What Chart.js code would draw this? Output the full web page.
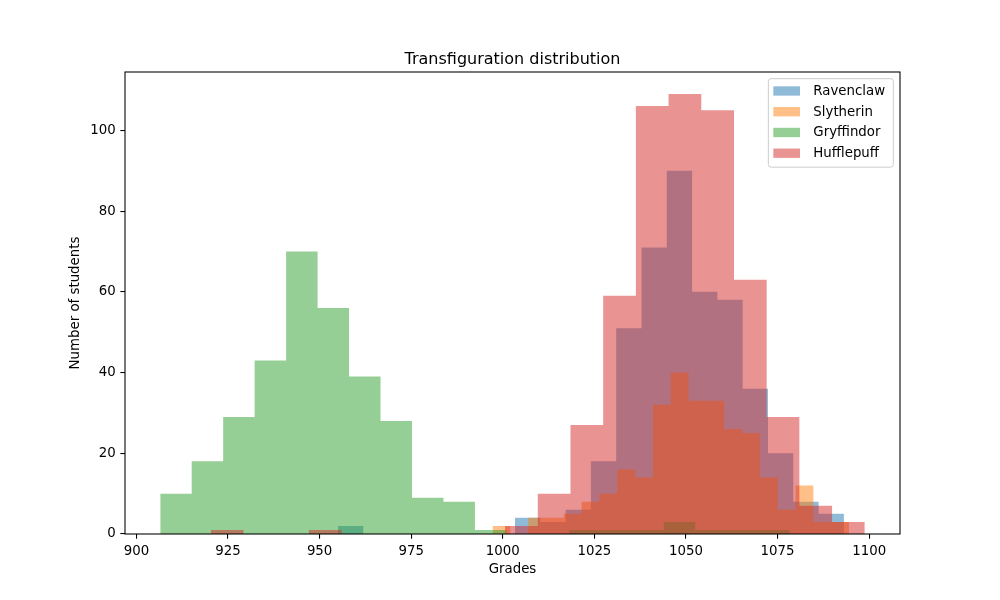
<!DOCTYPE html>
<html><head><meta charset="utf-8">
<script src="https://cdn.jsdelivr.net/npm/chart.js@4.4.1/dist/chart.umd.min.js"></script>
<style>html,body{margin:0;padding:0;background:#fff}canvas{display:block}</style>
</head><body>
<canvas id="c" width="1000" height="600"></canvas>
<script>
// ---- data ----
const houses = ['Ravenclaw', 'Slytherin', 'Gryffindor', 'Hufflepuff'];
// 20-bin histogram counts per house
const ravenclawCounts  = [2,0,0,0,0,0,0,4,3,6,18,51,71,90,60,58,36,20,8,5];
const slytherinCounts  = [2,0,4,4,5,8,10,16,14,32,40,33,33,26,25,14,6,12,3,3];
const gryffindorCounts = [10,18,29,43,70,56,39,28,9,8,1,0,0,1,1,1,3,1,1,1];
const hufflepuffCounts = [1,0,0,1,0,0,0,0,0,2,10,27,59,106,109,105,63,29,7,3];
// min / max grade of each house (histogram range)
const ravenclawRange  = [955.0, 1093.1];
const slytherinRange  = [997.2, 1094.5];
const gryffindorRange = [906.5, 1078.3];
const hufflepuffRange = [920.3, 1098.8];
const xTicks = [900, 925, 950, 975, 1000, 1025, 1050, 1075, 1100];
const yTicks = [0, 20, 40, 60, 80, 100];
const houseColors = ['rgba(31,119,180,0.5)', 'rgba(255,127,14,0.5)', 'rgba(44,160,44,0.5)', 'rgba(214,39,40,0.5)'];

const counts = [ravenclawCounts, slytherinCounts, gryffindorCounts, hufflepuffCounts];
const ranges = [ravenclawRange, slytherinRange, gryffindorRange, hufflepuffRange];

function histPoints(c, r) {
  const n = c.length, w = (r[1] - r[0]) / n, pts = [];
  for (let i = 0; i < n; i++) pts.push({x: r[0] + i * w, y: c[i]});
  pts.push({x: r[1], y: c[n - 1]});
  return pts;
}

const allMin = Math.min(...ranges.map(r => r[0]));
const allMax = Math.max(...ranges.map(r => r[1]));
const xPad = (allMax - allMin) * 0.05;
const yMax = Math.max(...counts.map(c => Math.max(...c))) * 1.05;

const FONT = "'DejaVu Sans', sans-serif";
const PT = 4 / 3;

const datasets = houses.map((h, i) => ({
  label: h,
  data: histPoints(counts[i], ranges[i]),
  stepped: true,
  fill: 'origin',
  backgroundColor: houseColors[i],
  borderColor: 'rgba(0,0,0,0)',
  borderWidth: 0,
  pointRadius: 0,
  pointHoverRadius: 0,
  order: houses.length - 1 - i
}));

const framePlugin = {
  id: 'frame',
  afterDatasetsDraw(chart) {
    const {ctx, chartArea: a} = chart;
    ctx.save();
    ctx.strokeStyle = '#000';
    ctx.lineWidth = 0.8 * PT;
    ctx.strokeRect(a.left, a.top, a.right - a.left, a.bottom - a.top);
    ctx.restore();
  }
};

const legendPlugin = {
  id: 'mplLegend',
  afterDraw(chart) {
    const {ctx, chartArea: a} = chart;
    const fs = 10 * PT;
    const bx1 = a.right - 0.5 * fs, by0 = a.top + 0.5 * fs;
    const bw = 125, bh = 88.5;
    const bx0 = bx1 - bw;
    ctx.save();
    const r = 0.2 * fs;
    ctx.beginPath();
    ctx.moveTo(bx0 + r, by0);
    ctx.lineTo(bx1 - r, by0);
    ctx.quadraticCurveTo(bx1, by0, bx1, by0 + r);
    ctx.lineTo(bx1, by0 + bh - r);
    ctx.quadraticCurveTo(bx1, by0 + bh, bx1 - r, by0 + bh);
    ctx.lineTo(bx0 + r, by0 + bh);
    ctx.quadraticCurveTo(bx0, by0 + bh, bx0, by0 + bh - r);
    ctx.lineTo(bx0, by0 + r);
    ctx.quadraticCurveTo(bx0, by0, bx0 + r, by0);
    ctx.closePath();
    ctx.fillStyle = 'rgba(255,255,255,0.8)';
    ctx.fill();
    ctx.strokeStyle = '#cccccc';
    ctx.lineWidth = 1;
    ctx.stroke();
    ctx.font = fs + 'px ' + FONT;
    ctx.textBaseline = 'middle';
    ctx.textAlign = 'left';
    const rowH = 20.75;
    chart.data.datasets.forEach((ds, i) => {
      const cy = by0 + 12.3 + i * rowH;
      ctx.fillStyle = ds.backgroundColor;
      ctx.fillRect(bx0 + 5, cy - 4.67, 2 * fs, 0.7 * fs);
      ctx.fillStyle = '#000';
      ctx.fillText(ds.label, bx0 + 45, cy + 0.5);
    });
    ctx.restore();
  }
};

new Chart(document.getElementById('c'), {
  type: 'line',
  data: {datasets},
  options: {
    responsive: false,
    animation: false,
    devicePixelRatio: 1,
    layout: {padding: {left: 0, right: 100, top: 0, bottom: 0}},
    plugins: {
      legend: {display: false},
      tooltip: {enabled: false},
      title: {
        display: true,
        text: 'Transfiguration distribution',
        fullSize: false,
        color: '#000',
        font: {family: FONT, size: 12 * PT, weight: 'normal', lineHeight: 1.2},
        padding: {top: 50, bottom: 2.8}
      },
      filler: {propagate: false}
    },
    scales: {
      x: {
        type: 'linear',
        min: allMin - xPad,
        max: allMax + xPad,
        afterBuildTicks: s => { s.ticks = xTicks.map(v => ({value: v})); },
        afterFit: s => { s.height = 66; },
        grid: {display: true, drawOnChartArea: false, drawTicks: true, tickLength: 3.5 * PT, color: '#000', lineWidth: 0.8 * PT},
        border: {display: false},
        ticks: {autoSkip: false, maxRotation: 0, padding: 5, color: '#000', font: {family: FONT, size: 10 * PT}, callback: v => String(v)},
        title: {display: true, text: 'Grades', color: '#000', font: {family: FONT, size: 10 * PT, lineHeight: 1.2}, padding: {top: 0, bottom: 22}}
      },
      y: {
        type: 'linear',
        min: 0,
        max: yMax,
        afterBuildTicks: s => { s.ticks = yTicks.map(v => ({value: v})); },
        afterFit: s => { s.width = 125; },
        grid: {display: true, drawOnChartArea: false, drawTicks: true, tickLength: 3.5 * PT, color: '#000', lineWidth: 0.8 * PT},
        border: {display: false},
        ticks: {autoSkip: false, padding: 3.5 * PT, color: '#000', font: {family: FONT, size: 10 * PT}, callback: v => String(v)},
        title: {display: true, text: 'Number of students', color: '#000', font: {family: FONT, size: 10 * PT, lineHeight: 1.2}, padding: {top: 68, bottom: 0}}
      }
    }
  },
  plugins: [framePlugin, legendPlugin]
});
</script>
</body></html>
